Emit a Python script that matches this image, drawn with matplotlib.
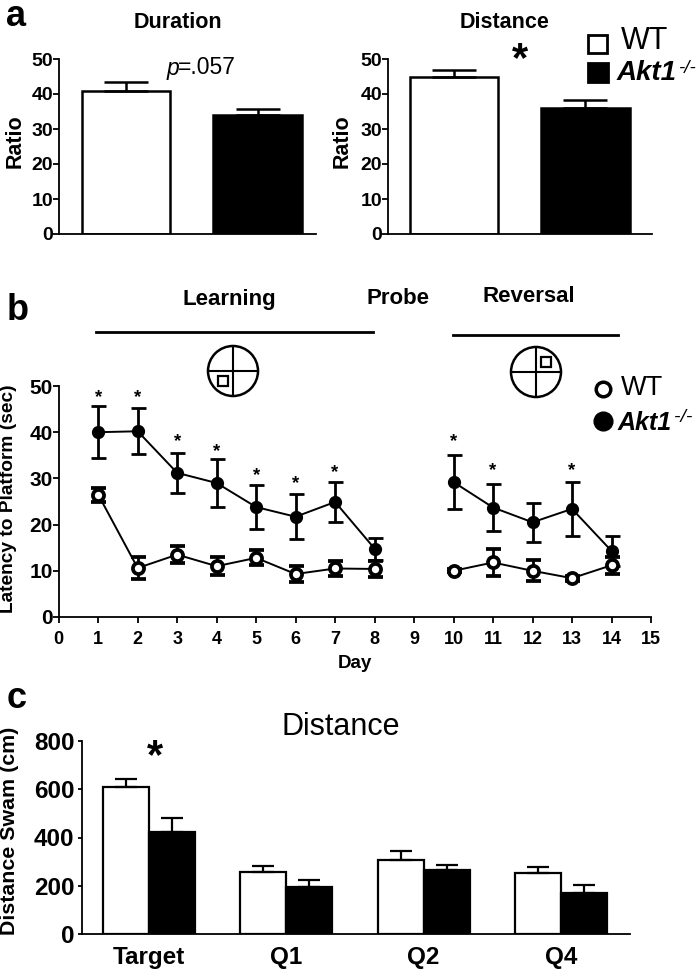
import matplotlib
matplotlib.use('Agg')
import matplotlib.pyplot as plt
from matplotlib.patches import Ellipse, Rectangle

plt.rcParams['font.family'] = ['Liberation Sans', 'DejaVu Sans']
plt.rcParams['font.weight'] = 'bold'

W, H = 697, 969

ratio_duration = [41, 34]
ratio_duration_top = [43.5, 35.8]
ratio_distance = [45, 36]
ratio_distance_top = [46.8, 38.2]

days_learning = [1, 2, 3, 4, 5, 6, 7, 8]
days_reversal = [10, 11, 12, 13, 14]
wt_learning = [26.5, 10.6, 13.5, 11, 12.8, 9.3, 10.5, 10.4]
wt_learning_err = [1.5, 2.3, 1.8, 1.9, 1.6, 1.8, 1.6, 1.8]
wt_reversal = [10, 11.8, 10, 8.4, 11.2]
wt_reversal_err = [0.3, 2.9, 2.3, 0.5, 1.8]
ko_learning = [40, 40.2, 31.2, 29, 23.8, 21.7, 24.9, 14.8]
ko_learning_err = [5.6, 5, 4.3, 5.1, 4.8, 4.9, 4.3, 2.4]
ko_reversal = [29.2, 23.7, 20.5, 23.4, 14.3]
ko_reversal_err = [5.8, 5, 4.2, 5.8, 3.3]
star_days = [1, 2, 3, 4, 5, 6, 7, 10, 11, 13]
star_y = [47.4, 47.4, 37.9, 35.9, 30.7, 28.8, 31.2, 37.9, 31.8, 31.8]

quadrants = ['Target', 'Q1', 'Q2', 'Q4']
swam_wt = [610, 258, 307, 253]
swam_wt_top = [642, 283, 342, 278]
swam_ko = [422, 195, 265, 172]
swam_ko_top = [480, 225, 285, 203]


def axes_px(x0, x1, ytop, ybottom):
    ax = fig.add_axes([x0 / W, 1 - ybottom / H, (x1 - x0) / W, (ybottom - ytop) / H])
    ax.patch.set_alpha(0)
    for side in ['top', 'right']:
        ax.spines[side].set_visible(False)
    for side in ['left', 'bottom']:
        ax.spines[side].set_linewidth(1.3)
    ax.tick_params(width=1.3, length=4.3)
    return ax


def bar_with_cap(ax, x, val, top, width, color, lw, cap):
    ax.bar(x, val, width, color=color, edgecolor='black', linewidth=lw)
    ax.errorbar(x, val, yerr=[[0], [top - val]], color='black', elinewidth=lw, capsize=cap,
                capthick=lw, fmt='none')


fig = plt.figure(figsize=(W / 100, H / 100), dpi=100)

# panel a
for x0, x1, xlim, vals, tops in [
        (59, 316, (-0.51, 1.445), ratio_duration, ratio_duration_top),
        (388, 652, (-0.502, 1.506), ratio_distance, ratio_distance_top)]:
    ax = axes_px(x0, x1, 59, 234)
    bar_with_cap(ax, 0, vals[0], tops[0], 0.67, 'white', 1.8, 16)
    bar_with_cap(ax, 1, vals[1], tops[1], 0.67, 'black', 1.8, 16)
    ax.set_xlim(xlim)
    ax.set_ylim(0, 50)
    ax.set_yticks([0, 10, 20, 30, 40, 50])
    ax.set_xticks([])
    ax.tick_params(axis='y', labelsize=14, pad=0)

# panel b
ax = axes_px(58.7, 651, 386, 617)
for days, vals, errs, face, ms, mew in [
        (days_learning, wt_learning, wt_learning_err, 'white', 8, 2.7),
        (days_reversal, wt_reversal, wt_reversal_err, 'white', 8, 2.7),
        (days_learning, ko_learning, ko_learning_err, 'black', 7.5, 2),
        (days_reversal, ko_reversal, ko_reversal_err, 'black', 7.5, 2)]:
    ax.errorbar(days, vals, yerr=errs, color='black', elinewidth=2, capsize=5.4, capthick=2,
                linewidth=1.4, marker='o', markersize=ms, markerfacecolor=face,
                markeredgecolor='black', markeredgewidth=mew, clip_on=False)
for d, y in zip(star_days, star_y):
    ax.text(d, y, '*', ha='center', va='center', fontsize=13.5)
ax.set_xlim(0, 15)
ax.set_ylim(0, 50)
ax.set_xticks(range(16))
ax.set_yticks([0, 10, 20, 30, 40, 50])
ax.tick_params(axis='x', labelsize=13, pad=6)
ax.tick_params(axis='y', labelsize=15, pad=0)

# panel c
ax = axes_px(81.6, 630, 741, 934)
for i in range(len(quadrants)):
    bar_with_cap(ax, i - 0.1675, swam_wt[i], swam_wt_top[i], 0.335, 'white', 1.6, 7.7)
    bar_with_cap(ax, i + 0.1675, swam_ko[i], swam_ko_top[i], 0.335, 'black', 1.6, 7.7)
ax.set_xlim(-0.491, 3.503)
ax.set_ylim(0, 800)
ax.set_yticks([0, 200, 400, 600, 800])
ax.set_xticks(range(4))
ax.set_xticklabels(quadrants)
ax.tick_params(axis='x', length=0, labelsize=17.5, pad=8.5)
ax.tick_params(axis='y', labelsize=17.5, pad=2, length=3.2)

# everything outside the plots, placed in pixels
over = fig.add_axes([0, 0, 1, 1])
over.set_xlim(0, W)
over.set_ylim(H, 0)
over.axis('off')
over.patch.set_alpha(0)


def label(x, y, s, size, **kw):
    kw.setdefault('ha', 'center')
    kw.setdefault('va', 'center')
    over.text(x, y, s, fontsize=size, **kw)


label(6, 12, 'a', 26, ha='left', va='center_baseline')
label(7, 311, 'b', 26, ha='left')
label(7, 698, 'c', 26, ha='left')
label(178, 22, 'Duration', 15.5)
label(505, 22, 'Distance', 15.5)
label(167, 68, 'p', 16.5, ha='left', style='italic', weight='normal')
label(178, 67, '=.057', 16.5, ha='left', weight='normal')
label(520, 60, '*', 30)
label(229, 299, 'Learning', 16)
label(398, 299, 'Probe', 16)
label(529, 297, 'Reversal', 16)
label(341, 727, 'Distance', 22, weight='normal')
label(155, 757, '*', 30)
label(355, 663, 'Day', 13.5)
label(15, 141, 'Ratio', 15.5, rotation=90)
label(342, 141, 'Ratio', 15.5, rotation=90)
label(9, 499, 'Latency to Platform (sec)', 13.8, rotation=90)
label(10, 831, 'Distance Swam (cm)', 15.4, rotation=90)

over.plot([96, 373], [332, 332], color='black', lw=2)
over.plot([453, 618], [335, 335], color='black', lw=2)

for cx, cy, sx, sy in [(233, 371, 223, 381), (536, 372, 546, 362)]:
    over.add_patch(Ellipse((cx, cy), 50, 50, fill=False, ec='black', lw=1.8))
    over.plot([cx, cx], [cy - 25, cy + 25], color='black', lw=1.5)
    over.plot([cx - 25, cx + 25], [cy, cy], color='black', lw=1.5)
    over.add_patch(Rectangle((sx - 5, sy - 5), 10, 10, fill=False, ec='black', lw=1.6))

over.add_patch(Rectangle((588, 34.5), 19, 18, fc='white', ec='black', lw=2))
over.add_patch(Rectangle((588, 63), 20, 19, fc='black', ec='black', lw=2))
label(621, 41, 'WT', 22, ha='left', weight='normal')
label(617, 73, 'Akt1', 20, ha='left', style='italic')
label(678, 68, '-/-', 13.5, ha='left', style='italic', weight='normal')

over.plot([603], [389], 'o', ms=10.5, mfc='white', mec='black', mew=2.5)
over.plot([603], [421], 'o', ms=13.5, mfc='black', mec='black')
label(621, 388, 'WT', 19.5, ha='left', weight='normal')
label(618, 423, 'Akt1', 18, ha='left', style='italic')
label(674, 417, '-/-', 14, ha='left', style='italic', weight='normal')

fig.savefig('out.png', dpi=100)
